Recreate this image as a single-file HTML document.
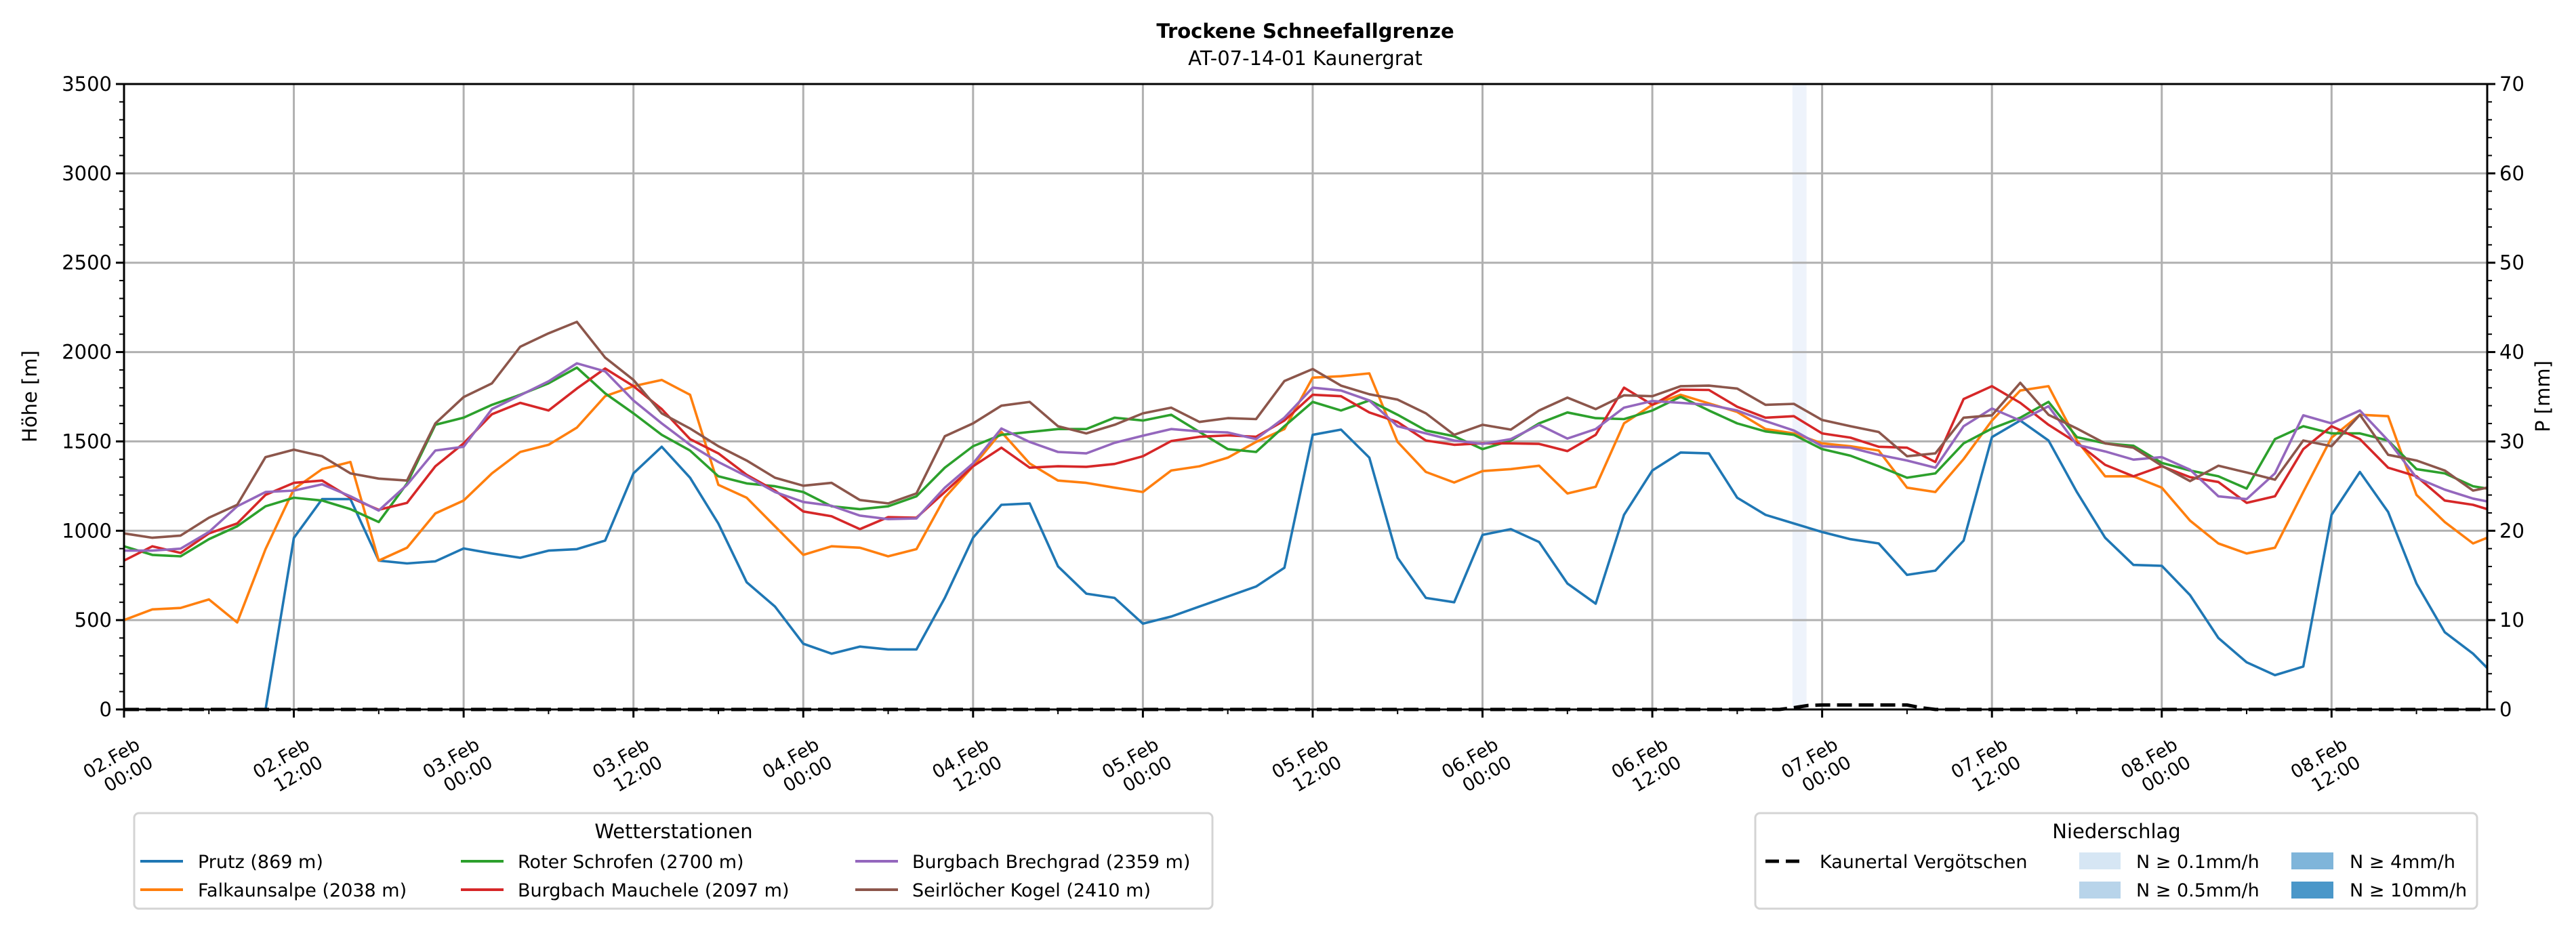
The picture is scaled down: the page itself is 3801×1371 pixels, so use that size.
<!DOCTYPE html>
<html><head><meta charset="utf-8"><style>
html,body{margin:0;padding:0;background:#fff;}
svg{display:block;font-family:"DejaVu Sans","Liberation Sans",sans-serif;}
</style></head><body>
<svg id="chart" width="3801" height="1371" viewBox="0 0 3801 1371" xmlns="http://www.w3.org/2000/svg">
<rect width="3801" height="1371" fill="#fff"/>
<text x="1926" y="56" text-anchor="middle" font-size="29" font-weight="bold">Trockene Schneefallgrenze</text>
<text x="1926" y="96" text-anchor="middle" font-size="29">AT-07-14-01 Kaunergrat</text>
<g id="plot"></g>
<text transform="translate(54,585) rotate(-90)" text-anchor="middle" font-size="29">Höhe [m]</text>
<text transform="translate(3762,585) rotate(-90)" text-anchor="middle" font-size="29">P [mm]</text>

<g>
<rect x="198" y="1200" width="1591" height="141" rx="7" fill="#fff" stroke="#d4d4d4" stroke-width="3"/>
<text x="994" y="1237" text-anchor="middle" font-size="29">Wetterstationen</text>
<g><line x1="207" y1="1271" x2="270" y2="1271" stroke="#1f77b4" stroke-width="4"/><text x="292" y="1281" font-size="27">Prutz (869 m)</text></g>
<g><line x1="207" y1="1313" x2="270" y2="1313" stroke="#ff7f0e" stroke-width="4"/><text x="292" y="1323" font-size="27">Falkaunsalpe (2038 m)</text></g>
<g><line x1="680" y1="1271" x2="743" y2="1271" stroke="#2ca02c" stroke-width="4"/><text x="764" y="1281" font-size="27">Roter Schrofen (2700 m)</text></g>
<g><line x1="680" y1="1313" x2="743" y2="1313" stroke="#d62728" stroke-width="4"/><text x="764" y="1323" font-size="27">Burgbach Mauchele (2097 m)</text></g>
<g><line x1="1262" y1="1271" x2="1325" y2="1271" stroke="#9467bd" stroke-width="4"/><text x="1346" y="1281" font-size="27">Burgbach Brechgrad (2359 m)</text></g>
<g><line x1="1262" y1="1313" x2="1325" y2="1313" stroke="#8c564b" stroke-width="4"/><text x="1346" y="1323" font-size="27">Seirlöcher Kogel (2410 m)</text></g>
</g>

<g>
<rect x="2590" y="1200" width="1065" height="141" rx="7" fill="#fff" stroke="#d4d4d4" stroke-width="3"/>
<text x="3123" y="1237" text-anchor="middle" font-size="29">Niederschlag</text>
<g><line x1="2605" y1="1271" x2="2659" y2="1271" stroke="#000" stroke-width="5" stroke-dasharray="20,10"/><text x="2685" y="1281" font-size="27">Kaunertal Vergötschen</text></g>
<g><rect x="3068" y="1258" width="61" height="25" fill="#d6e6f4"/><text x="3152" y="1281" font-size="27">N ≥ 0.1mm/h</text></g>
<g><rect x="3068" y="1301" width="61" height="25" fill="#b8d4ea"/><text x="3152" y="1323" font-size="27">N ≥ 0.5mm/h</text></g>
<g><rect x="3381" y="1258" width="62" height="25" fill="#7fb5da"/><text x="3467" y="1281" font-size="27">N ≥ 4mm/h</text></g>
<g><rect x="3381" y="1301" width="62" height="25" fill="#4a97c9"/><text x="3467" y="1323" font-size="27">N ≥ 10mm/h</text></g>
</g>
</svg>
<script>
const hours = [0,2,4,6,8,10,12,14,16,18,20,22,24,26,28,30,32,34,36,38,40,42,44,46,48,50,52,54,56,58,60,62,64,66,68,70,72,74,76,78,80,82,84,86,88,90,92,94,96,98,100,102,104,106,108,110,112,114,116,118,120,122,124,126,128,130,132,134,136,138,140,142,144,146,148,150,152,154,156,158,160,162,164,166,167];
const prutz = [null,null,null,null,null,0,960,1177,1177,833,817,829,901,873,849,889,897,945,1321,1470,1297,1040,712,576,368,312,352,336,336,624,961,1145,1153,801,648,624,480,520,576,632,688,793,1537,1566,1409,849,624,600,977,1009,937,705,592,1089,1337,1438,1433,1185,1089,1041,993,953,929,753,777,945,1524,1617,1505,1217,961,809,804,640,400,264,192,240,1089,1329,1105,705,432,312,232];
const falkaunsalpe = [500,560,568,616,487,897,1233,1345,1385,833,905,1097,1169,1321,1441,1481,1577,1753,1809,1844,1761,1257,1185,1025,865,913,905,857,897,1185,1361,1553,1377,1281,1268,1241,1217,1337,1361,1409,1497,1569,1857,1865,1881,1497,1329,1270,1334,1345,1364,1209,1246,1601,1705,1761,1713,1665,1569,1545,1489,1473,1449,1241,1217,1401,1617,1785,1809,1505,1305,1305,1241,1057,929,873,905,1217,1521,1649,1641,1201,1049,929,961];
const roterSchrofen = [913,865,857,953,1025,1137,1185,1169,1121,1049,1265,1593,1633,1705,1761,1825,1913,1769,1657,1537,1449,1305,1265,1249,1217,1137,1121,1137,1193,1353,1473,1537,1553,1569,1569,1633,1617,1649,1553,1457,1441,1585,1721,1673,1729,1649,1561,1529,1457,1505,1601,1662,1630,1625,1673,1750,1673,1601,1556,1537,1457,1420,1361,1297,1321,1489,1572,1633,1721,1524,1489,1476,1380,1337,1305,1236,1513,1585,1545,1545,1505,1345,1321,1249,1236];
const mauchele = [833,913,876,985,1041,1201,1268,1281,1185,1117,1156,1361,1489,1652,1716,1673,1796,1908,1809,1681,1513,1433,1313,1225,1108,1081,1009,1076,1073,1217,1361,1465,1353,1361,1358,1374,1417,1502,1526,1534,1526,1617,1761,1753,1662,1609,1505,1481,1489,1489,1486,1446,1537,1801,1705,1790,1788,1694,1633,1641,1545,1521,1470,1465,1385,1737,1809,1716,1593,1492,1369,1305,1361,1300,1273,1156,1193,1457,1585,1513,1353,1305,1169,1145,1121];
const brechgrad = [889,889,900,993,1137,1217,1225,1260,1193,1113,1257,1449,1470,1681,1758,1836,1937,1892,1729,1601,1481,1385,1305,1217,1161,1140,1085,1065,1069,1241,1377,1572,1497,1441,1433,1492,1532,1569,1556,1550,1513,1633,1801,1785,1729,1585,1545,1505,1486,1513,1593,1516,1569,1689,1726,1716,1705,1673,1614,1561,1473,1465,1425,1393,1353,1585,1684,1617,1697,1481,1444,1398,1412,1342,1193,1177,1321,1646,1601,1673,1505,1297,1230,1180,1164];
const seirloecher = [985,961,973,1073,1145,1412,1454,1417,1321,1292,1281,1601,1748,1825,2030,2105,2169,1969,1844,1657,1572,1473,1393,1297,1252,1268,1172,1153,1209,1529,1601,1700,1721,1585,1545,1593,1657,1689,1609,1630,1625,1838,1905,1812,1764,1734,1657,1537,1593,1566,1673,1745,1681,1758,1753,1809,1812,1796,1705,1710,1620,1585,1553,1417,1433,1633,1646,1828,1649,1572,1489,1465,1364,1278,1364,1326,1286,1505,1473,1649,1425,1393,1337,1225,1241];
const precipHours = [0,117,118,119,120,126,127,128,167];
const precipValues = [0,0,0.2,0.45,0.5,0.5,0.2,0,0];
const shadeStart = [117.9];
const shadeEnd = [118.9];
const yTicks = [0,500,1000,1500,2000,2500,3000,3500];
const y2Ticks = [0,10,20,30,40,50,60,70];
const xTickHours = [0,12,24,36,48,60,72,84,96,108,120,132,144,156];
const xTickDates = ["02.Feb","02.Feb","03.Feb","03.Feb","04.Feb","04.Feb","05.Feb","05.Feb","06.Feb","06.Feb","07.Feb","07.Feb","08.Feb","08.Feb"];
const xTickTimes = ["00:00","12:00","00:00","12:00","00:00","12:00","00:00","12:00","00:00","12:00","00:00","12:00","00:00","12:00"];

const L=183,R=3670,T=124,B=1047;
const xS=h=>L+h*(R-L)/167;
const yS=v=>B-v*(B-T)/3500;
const y2S=p=>B-p*(B-T)/70;
const NS='http://www.w3.org/2000/svg';
const plot=document.getElementById('plot');
function mk(tag,attrs,parent){const e=document.createElementNS(NS,tag);for(const k in attrs)e.setAttribute(k,attrs[k]);(parent||plot).appendChild(e);return e;}

for(let i=0;i<shadeStart.length;i++){
  const r=mk('rect',{x:xS(shadeStart[i]),y:T,width:xS(shadeEnd[i])-xS(shadeStart[i]),height:B-T,fill:'#eef3fb'});
  
  
}
yTicks.forEach(v=>{const l=mk('line',{x1:L,x2:R,y1:yS(v),y2:yS(v),stroke:'#b0b0b0','stroke-width':3});
  
  });
xTickHours.forEach(h=>{const l=mk('line',{x1:xS(h),x2:xS(h),y1:T,y2:B,stroke:'#b0b0b0','stroke-width':3});
  
  });

const series=[[prutz,'#1f77b4','series-prutz'],[falkaunsalpe,'#ff7f0e','series-falkaunsalpe'],[roterSchrofen,'#2ca02c','series-roter-schrofen'],[mauchele,'#d62728','series-burgbach-mauchele'],[brechgrad,'#9467bd','series-burgbach-brechgrad'],[seirloecher,'#8c564b','series-seirloecher-kogel']];
series.forEach(([vals,col,name])=>{
  let d='',pen=false;
  vals.forEach((v,i)=>{if(v===null){pen=false;return;}d+=(pen?'L':'M')+xS(hours[i]).toFixed(1)+','+yS(v).toFixed(1);pen=true;});
  const p=mk('path',{d:d,fill:'none',stroke:col,'stroke-width':3.6,'stroke-linejoin':'round'});
  
  
});
{let d='';precipHours.forEach((h,i)=>{d+=(i?'L':'M')+xS(h).toFixed(1)+','+y2S(precipValues[i]).toFixed(1);});
 const p=mk('path',{d:d,fill:'none',stroke:'#000','stroke-width':5,'stroke-dasharray':'22,10'});
 
 }

const fr=mk('rect',{x:L,y:T,width:R-L,height:B-T,fill:'none',stroke:'#000','stroke-width':3});



for(let v=0;v<=3500;v+=100){const maj=v%500===0;mk('line',{x1:L,x2:L-(maj?12:7),y1:yS(v),y2:yS(v),stroke:'#000','stroke-width':maj?3:2});}
yTicks.forEach(v=>{const t=mk('text',{x:L-18,y:yS(v)+10,'text-anchor':'end','font-size':29});t.textContent=v;
  
  });
for(let p=0;p<=70;p+=2){const maj=p%10===0;mk('line',{x1:R,x2:R+(maj?12:7),y1:y2S(p),y2:y2S(p),stroke:'#000','stroke-width':maj?3:2});}
y2Ticks.forEach(p=>{const t=mk('text',{x:R+18,y:y2S(p)+10,'font-size':29});t.textContent=p;
  
  });
for(let h=0;h<=167;h+=6){const maj=h%12===0;mk('line',{x1:xS(h),x2:xS(h),y1:B,y2:B+(maj?12:7),stroke:'#000','stroke-width':maj?3:2});}
xTickHours.forEach((h,i)=>{
  const x=xS(h);
  const t1=mk('text',{x:0,y:0,'text-anchor':'middle','font-size':27,transform:`translate(${x-14},${1127}) rotate(-30)`});t1.textContent=xTickDates[i];
  
  
  const t2=mk('text',{x:0,y:0,'text-anchor':'middle','font-size':27,transform:`translate(${x+11},${1150}) rotate(-30)`});t2.textContent=xTickTimes[i];
  
  
});
</script>
</body></html>
